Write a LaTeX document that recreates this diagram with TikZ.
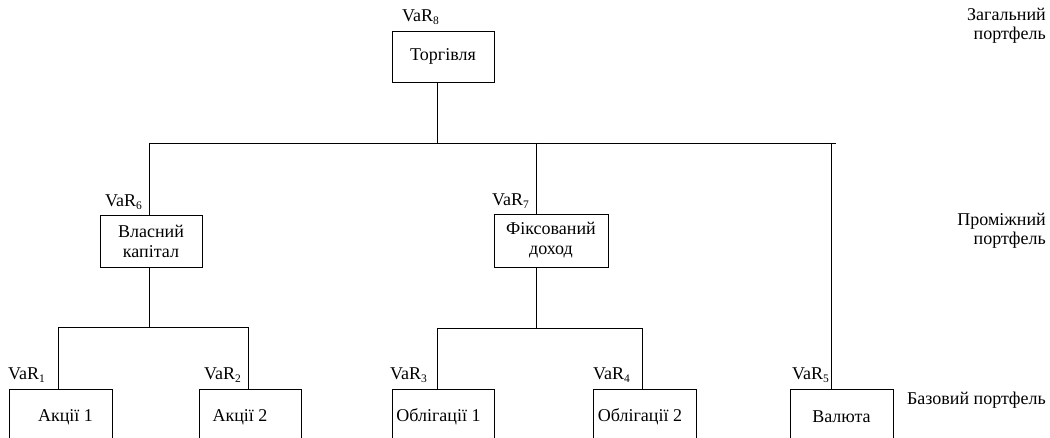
\documentclass[tikz,border=0pt]{standalone}
\usepackage{fontspec}
\setmainfont{Liberation Serif}
\begin{document}
\begin{tikzpicture}[x=1pt,y=-1pt,
  box/.style={draw,line width=0.8pt,inner sep=0pt,align=center,font=\fontsize{18}{20}\selectfont},
  lbl/.style={inner sep=0pt,anchor=base west,font=\fontsize{18}{20}\selectfont},
  side/.style={inner sep=0pt,anchor=base east,align=right,font=\fontsize{18}{19.5}\selectfont},
  btxt/.style={font=\fontsize{18}{20}\selectfont},
  conn/.style={line width=0.8pt}]
\useasboundingbox (0,0) rectangle (1050,438);
\clip (0,0) rectangle (1050,438);
\newcommand{\vr}[1]{VaR\raisebox{-2.5pt}{\fontsize{11.5}{11.5}\selectfont #1}}
% boxes
\node[box,minimum width=102pt,minimum height=51pt] (t) at (443,56.5) {Торгівля};
\node[box,minimum width=102pt,minimum height=52pt] (b6) at (151,241) {Власний\\капітал};
\node[box,minimum width=114pt,minimum height=53pt] (b7) at (551,240.5) {Фіксований\\доход};
\node[box,minimum width=103pt,minimum height=60pt,label={[btxt,xshift=5pt,yshift=2pt]center:Акції 1}] (a1) at (60.5,419) {};
\node[box,minimum width=102pt,minimum height=60pt,label={[btxt,xshift=-10pt,yshift=2pt]center:Акції 2}] (a2) at (250,419) {};
\node[box,minimum width=102pt,minimum height=60pt,label={[btxt,xshift=-4.5pt,yshift=2pt]center:Облігації 1}] (o1) at (443,419) {};
\node[box,minimum width=103pt,minimum height=60pt,label={[btxt,xshift=-4.5pt,yshift=2pt]center:Облігації 2}] (o2) at (644.5,419) {};
\node[box,minimum width=103pt,minimum height=60pt,label={[btxt,yshift=2pt]center:Валюта}] (v) at (841.5,419) {};
% junctions
\coordinate (j0) at (437,143);
\coordinate (jl) at (149,143);
\coordinate (jm) at (536,143);
\coordinate (jr) at (831,143);
\coordinate (je) at (836,143);
\coordinate (k0) at (149,327);
\coordinate (kl) at (58,327);
\coordinate (kr) at (248,327);
\coordinate (m0) at (536,328);
\coordinate (ml) at (437,328);
\coordinate (mr) at (642,328);
% connectors
\draw[conn] (t.south -| j0) -- (j0);
\draw[conn] (jl) -- (je);
\draw[conn] (jl) -- (jl |- b6.north);
\draw[conn] (jm) -- (jm |- b7.north);
\draw[conn] (jr) -- (jr |- v.north);
\draw[conn] (b6.south -| k0) -- (k0);
\draw[conn] (kl) -- (kr);
\draw[conn] (kl) -- (kl |- a1.north);
\draw[conn] (kr) -- (kr |- a2.north);
\draw[conn] (b7.south -| m0) -- (m0);
\draw[conn] (ml) -- (mr);
\draw[conn] (ml) -- (ml |- o1.north);
\draw[conn] (mr) -- (mr |- o2.north);
% VaR labels
\node[lbl] (l8) at (402,22) {\vr{8}};
\node[lbl] (l6) at (105,207) {\vr{6}};
\node[lbl] (l7) at (492,206) {\vr{7}};
\node[lbl] (l1) at (8,380) {\vr{1}};
\node[lbl] (l2) at (204,380) {\vr{2}};
\node[lbl] (l3) at (390,380) {\vr{3}};
\node[lbl] (l4) at (593,380) {\vr{4}};
\node[lbl] (l5) at (792,380) {\vr{5}};
% level labels
\node[side] (s1) at (1046,40) {Загальний\\портфель};
\node[side] (s2) at (1046,245) {Проміжний\\портфель};
\node[side] (s3) at (1046,404) {Базовий портфель};
\end{tikzpicture}
\end{document}
